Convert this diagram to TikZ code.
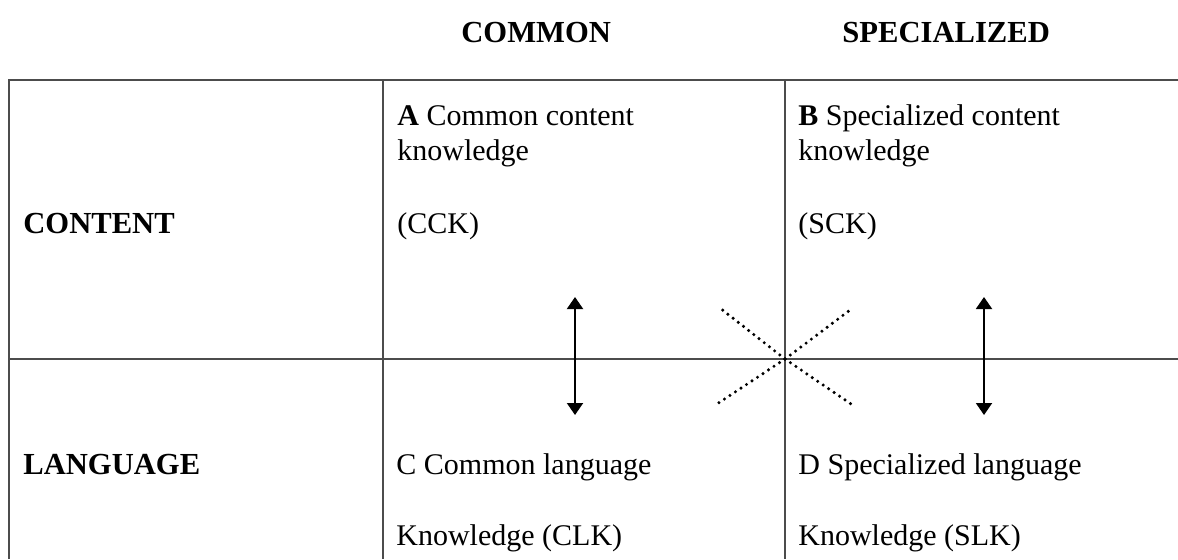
\documentclass[tikz,border=0pt]{standalone}
\usepackage{fontspec}
\setmainfont{Liberation Serif}
\usetikzlibrary{arrows.meta}
\begin{document}
\begin{tikzpicture}[x=0.5pt,y=-0.5pt,
  rule/.style={draw=black!70,line width=0.8pt},
  lbl/.style={anchor=base west,inner sep=0pt,font=\fontsize{15}{18}\selectfont},
  head/.style={anchor=base west,inner sep=0pt,font=\fontsize{15.3}{18}\selectfont\bfseries},
  link/.style={line width=1pt,{Triangle[width=8pt,length=6pt]}-{Triangle[width=8pt,length=6pt]}},
  cross/.style={line width=1.7pt,dash pattern=on 0pt off 3.3pt,line cap=round}]
\useasboundingbox (0,0) rectangle (1178,559);
\fill[white] (0,0) rectangle (1178,559);

% table frame
\coordinate (tl) at (9,80);
\coordinate (tr) at (1178,80);
\coordinate (ml) at (9,359);
\coordinate (mr) at (1178,359);
\coordinate (bl) at (9,559);
\coordinate (c1t) at (383,80);
\coordinate (c1b) at (383,559);
\coordinate (c2t) at (785,80);
\coordinate (c2b) at (785,559);
\coordinate (mid) at (785,359);

\draw[rule] (bl) -- (tl) -- (tr);
\draw[rule] (ml) -- (mr);
\draw[rule] (c1t) -- (c1b);
\draw[rule] (c2t) -- (c2b);

% column headings
\node[head] (hcom) at (461,42) {COMMON};
\node[head] (hspec) at (842,42) {SPECIALIZED};

% row headings
\node[head] (rcont) at (23,233) {CONTENT};
\node[head] (rlang) at (23,474) {LANGUAGE};

% cell A
\node[lbl] (a1) at (397,125) {\textbf{A} Common content};
\node[lbl] (a2) at (397,160) {knowledge};
\node[lbl] (a3) at (397,233) {(CCK)};
% cell B
\node[lbl] (b1) at (798,125) {\textbf{B} Specialized content};
\node[lbl] (b2) at (798,160) {knowledge};
\node[lbl] (b3) at (798,233) {(SCK)};
% cell C
\node[lbl] (c1) at (396,474) {C Common language};
\node[lbl] (c2) at (396,545) {Knowledge (CLK)};
% cell D
\node[lbl] (d1) at (798,474) {D Specialized language};
\node[lbl] (d2) at (798,545) {Knowledge (SLK)};

% vertical links between content and language
\coordinate (lt) at (575,297);
\coordinate (lb) at (575,415);
\coordinate (rt) at (984,297);
\coordinate (rb) at (984,415);
\draw[link] (lt) -- (lb);
\draw[link] (rt) -- (rb);

% dotted cross through the centre
\coordinate (xtl) at (720,308);
\coordinate (xtr) at (850,310);
\coordinate (xbl) at (717,404);
\coordinate (xbr) at (851,404);
\draw[cross] (mid) -- (xtl);
\draw[cross] (mid) -- (xbr);
\draw[cross] (mid) -- (xbl);
\draw[cross] (mid) -- (xtr);
\end{tikzpicture}
\end{document}
